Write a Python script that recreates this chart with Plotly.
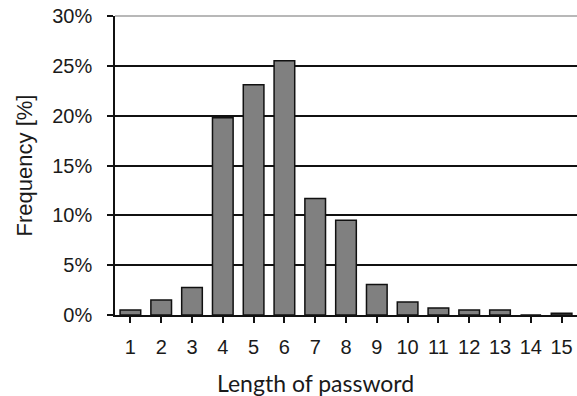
import plotly.graph_objects as go

lengths = list(range(1, 16))
frequency = [0.5, 1.5, 2.75, 19.8, 23.1, 25.5, 11.7, 9.5, 3.05, 1.3, 0.7, 0.5, 0.5, 0.0, 0.17]
y_ticks = [0, 5, 10, 15, 20, 25, 30]
y_tick_labels = [f"{v}%" for v in y_ticks]

fig = go.Figure()
fig.add_trace(go.Bar(
    x=lengths, y=frequency,
    marker=dict(color="#808080", line=dict(color="#111111", width=1.5)),
))

fig.update_layout(
    width=577, height=396,
    margin=dict(l=115, r=0, t=16, b=81),
    plot_bgcolor="white", paper_bgcolor="white",
    bargap=0.33,
    showlegend=False,
    font=dict(family="Arial", color="#1a1a1a", size=20),
)
fig.update_xaxes(
    range=[0.5, 15.5], tickmode="array", tickvals=lengths, ticktext=[str(v) for v in lengths],
    tickson="boundaries", ticks="outside", ticklen=6, tickcolor="#111111", tickwidth=1.5,
    showline=True, linecolor="#111111", linewidth=1.5, showgrid=False,
    ticklabelstandoff=7, automargin=False, ticklabeloverflow="allow",
    tickfont=dict(family="Arial", size=20),
)
fig.update_yaxes(
    range=[0, 30], tickmode="array", tickvals=y_ticks, ticktext=y_tick_labels,
    ticks="outside", ticklen=6, tickcolor="#111111", tickwidth=1.5,
    showline=True, linecolor="#111111", linewidth=1.5,
    showgrid=True, gridcolor="#111111", gridwidth=1.5,
    ticklabelstandoff=11, zeroline=False, automargin=False, ticklabeloverflow="allow",
    title=dict(text="Frequency [%]", font=dict(size=22), standoff=14),
)
fig.add_shape(type="line", xref="paper", yref="paper", x0=0, x1=1, y0=1, y1=1,
              line=dict(color="#a0a0a0", width=1.5))
fig.add_annotation(text="Length of password", xref="paper", yref="paper",
                   x=0.433, y=0, xanchor="center", yanchor="middle", yshift=-68,
                   showarrow=False, font=dict(family="Lato", size=23, color="#1a1a1a"))

fig.write_html(
    "out.html",
    config={"displayModeBar": False},
    post_script="document.body.style.margin='0';document.body.style.overflow='hidden';",
)
